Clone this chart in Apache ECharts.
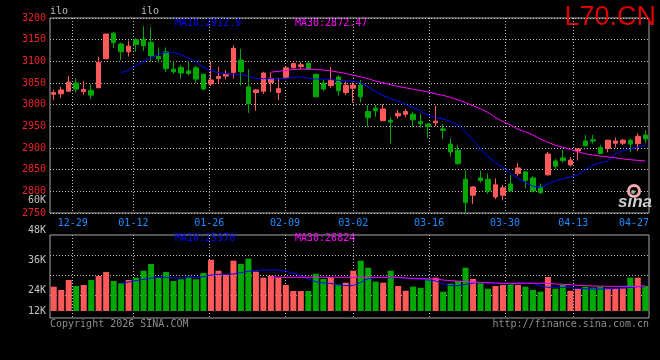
<!DOCTYPE html>
<html>
<head>
<meta charset="utf-8">
<script src="https://cdn.jsdelivr.net/npm/echarts@6/dist/echarts.min.js"></script>
<style>html,body{margin:0;padding:0;background:#000;}#c{width:660px;height:360px;}</style>
</head>
<body>
<div id="c"></div>
<script>
const dates = ['12-24','12-25','12-26','12-29','12-30','12-31','01-05','01-06','01-07','01-08','01-09','01-12','01-13','01-14','01-15','01-16','01-19','01-20','01-21','01-22','01-23','01-26','01-27','01-28','01-29','01-30','02-02','02-03','02-04','02-05','02-06','02-09','02-10','02-11','02-12','02-13','02-24','02-25','02-26','02-27','03-02','03-03','03-04','03-05','03-06','03-09','03-10','03-11','03-12','03-13','03-16','03-17','03-18','03-19','03-20','03-23','03-24','03-25','03-26','03-27','03-30','03-31','04-01','04-02','04-03','04-07','04-08','04-09','04-10','04-13','04-14','04-15','04-16','04-17','04-20','04-21','04-22','04-23','04-24','04-27'];
const xTickLabels = ['12-29','01-12','01-26','02-09','03-02','03-16','03-30','04-13','04-27'];
const open = [3024,3025,3031,3050,3030,3033,3039,3106,3165,3140, 3122,3150,3151,3144,3111,3122,3082,3086,3078,3085, 3070,3048,3060,3066,3074,3103,3041,3028,3031,3051, 3028,3062,3085,3088,3096,3070,3050,3044,3064,3028, 3038,3045,2984,2992,2963,2964,2974,2978,2978,2961, 2955,2958,2944,2909,2895,2828,2791,2831,2828,2787, 2791,2817,2841,2845,2831,2810,2838,2870,2877,2861, 2893,2916,2919,2901,2899,2911,2911,2918,2910,2930];
const close = [3028,3034,3052,3036,3035,3022,3098,3163,3143,3122, 3135,3139,3136,3113,3106,3083,3076,3073,3072,3059, 3036,3057,3065,3071,3130,3076,3002,3034,3073,3061, 3037,3085,3095,3092,3082,3018,3036,3056,3032,3045, 3045,3018,2970,2986,2990,2960,2980,2984,2965,2956, 2950,2962,2941,2891,2864,2774,2810,2825,2801,2815, 2808,2801,2854,2825,2801,2797,2886,2858,2871,2872, 2898,2905,2916,2887,2918,2916,2918,2909,2927,2921];
const low = [3011,3015,3031,3028,3022,3013,3039,3106,3131,3103, 3111,3122,3124,3099,3097,3075,3071,3060,3067,3050, 3034,3043,3048,3058,3060,3044,2981,2986,3025,3029, 3011,3061,3084,3082,3082,3018,3032,3039,3021,3022, 3005,3005,2949,2972,2963,2910,2968,2971,2949,2947, 2924,2951,2921,2880,2861,2750,2771,2820,2794,2782, 2779,2800,2835,2808,2797,2794,2837,2851,2866,2857, 2871,2905,2910,2886,2890,2901,2907,2890,2893,2911];
const high = [3034,3041,3066,3061,3054,3047,3110,3164,3168,3143, 3148,3153,3181,3179,3132,3132,3101,3092,3101,3090, 3072,3100,3087,3080,3137,3129,3082,3036,3076,3074, 3062,3087,3097,3098,3096,3072,3057,3087,3068,3053, 3051,3057,2999,2999,3001,2971,2988,2990,2984,2978, 2957,2997,2955,2922,2907,2848,2812,2848,2841,2830, 2815,2838,2865,2845,2835,2818,2891,2875,2896,2879, 2899,2930,2930,2907,2919,2924,2921,2922,2934,2941];
// MA10 from index 9, MA30 from index 29
const ma10 = [3073,3080,3090,3099,3108,3116,3121,3121,3115,3107, 3099,3086,3078,3074,3071,3070,3070,3065,3061,3060, 3060,3060,3061,3063,3064,3061,3059,3059,3058,3056, 3055,3054,3051,3041,3030,3021,3014,3008,3000,2994, 2985,2976,2970,2967,2961,2953,2937,2918,2898,2880, 2866,2855,2842,2830,2820,2812,2809,2817,2824,2829, 2833,2838,2850,2860,2866,2870,2886,2894,2897,2902, 2907];
const ma30 = [3075,3077,3079,3081,3082,3082,3081,3080,3078,3075, 3072,3068,3064,3060,3054,3050.5,3046,3042,3039,3035.5, 3032.5,3029.5,3025,3021.5,3017,3011,3004.7,2997.5,2990.5,2982, 2970,2961,2953,2943.5,2937.5,2930,2921,2913,2906.5,2901.5, 2897,2891.5,2886.5,2884,2881.5,2879.5,2877.5,2875,2873,2871.5, 2870];
const vol = [25900,22400,33000,26600,27700,33000,37300,41500,32000,29500, 33000,35500,42900,50100,35900,41500,32000,33800,36500,33800, 40500,54600,42900,39100,53600,50100,55700,41900,35500,37600, 35500,27700,21300,21300,21300,39700,34100,35500,28400,30100, 42900,53600,46100,31200,30100,42900,26600,21600,25900,24800, 34100,35500,20600,29100,32300,46100,34100,29500,23700,26600, 27700,28400,27700,25900,22400,20600,36200,23700,27700,21600, 23700,25900,24800,25900,24200,24200,24200,35500,35500,26600];
const volMa10 = [29500,30900,32300,33700,35100,35900,35900,35100,35100,35500, 35900,36500,38300,39100,39100,39400,40800,42300,42900,43700, 43700,43700,42600,40100,37600,34100,31200,29800,29500,27700, 27000,27300,30500,34400,35500,35500,35500,35500,34800,34400, 33700,33000,32000,28800,27000,27000,28400,29800,30500,29800, 29500,29100,28800,30100,29800,29500,26600,25200,25200,25200, 24800,24200,23700,23400,23400,23700,24200,24500,25200,25900, 25970];
const volMa30 = [35900,35900,35900,35900,35900,35900,35900,35900,35900,35900, 35900,35900,35900,35900,35900,35900,35900,35900,35100,34800, 34400,34300,34100,33000,32300,31600,31200,30900,30500,30100, 29800,29500,29500,29500,29500,29500,29500,29500,28800,28400, 28100,27300,27000,26600,26600,26300,26300,26300,26300,26300, 26824];
const priceLegend = ['MA10:2912.9', 'MA30:2872.47'];
const volLegend = ['MA10:25970', 'MA30:26824'];
const volTickLabels = ['60K', '48K', '36K', '24K', '12K'];

const FONT = 'DejaVu Sans Mono';
const RED = '#ff5a5a', GREEN = '#00a800';
const GRID_LINE = {color: '#c0c0c0', type: [1, 2], width: 1};
const pad = (n, arr) => Array(n).fill('-').concat(arr);
const labelIdx = xTickLabels.map(d => dates.indexOf(d));
const gridIdx = labelIdx.filter(i => i !== dates.length - 1);

const chart = echarts.init(document.getElementById('c'), null, {renderer: 'canvas'});
const volTickY = [200.5, 230, 260, 290.5, 311];
const graphics = [
  {type: 'text', style: {text: 'ilo', x: 50, y: 11.5, fill: '#bbbbbb', font: '10px ' + FONT, textAlign: 'left', textVerticalAlign: 'middle'}},
  {type: 'text', style: {text: 'ilo', x: 141, y: 11.5, fill: '#bbbbbb', font: '10px ' + FONT, textAlign: 'left', textVerticalAlign: 'middle'}},
  {type: 'text', style: {text: 'L70.CN', x: 656, y: 17.5, fill: '#dd0000', font: '27px "Liberation Sans"', textAlign: 'right', textVerticalAlign: 'middle'}},
  {type: 'text', style: {text: priceLegend[0], x: 175, y: 23.5, fill: '#0000ff', font: '10px ' + FONT, textAlign: 'left', textVerticalAlign: 'middle'}},
  {type: 'text', style: {text: priceLegend[1], x: 295, y: 23.5, fill: '#ff00ff', font: '10px ' + FONT, textAlign: 'left', textVerticalAlign: 'middle'}},
  {type: 'text', style: {text: volLegend[0], x: 175, y: 238, fill: '#0000ff', font: '10px ' + FONT, textAlign: 'left', textVerticalAlign: 'middle'}},
  {type: 'text', style: {text: volLegend[1], x: 295, y: 238, fill: '#ff00ff', font: '10px ' + FONT, textAlign: 'left', textVerticalAlign: 'middle'}},
  {type: 'text', style: {text: 'Copyright 2026 SINA.COM', x: 50, y: 324, fill: '#8c8c8c', font: '10px ' + FONT, textAlign: 'left', textVerticalAlign: 'middle'}},
  {type: 'text', style: {text: 'http://finance.sina.com.cn', x: 649, y: 324, fill: '#8c8c8c', font: '10px ' + FONT, textAlign: 'right', textVerticalAlign: 'middle'}},
  {type: 'circle', shape: {cx: 634, cy: 191, r: 5.5}, style: {fill: 'none', stroke: '#f2a8a8', lineWidth: 3}},
  {type: 'circle', shape: {cx: 633, cy: 192, r: 2}, style: {fill: '#a0a0a0'}},
  {type: 'text', style: {text: 'sina', x: 635, y: 202, fill: '#cfcfcf', font: 'italic bold 17px "Liberation Sans"', textAlign: 'center', textVerticalAlign: 'middle'}}
];
volTickLabels.forEach((t, i) => {
  graphics.push({type: 'text', style: {text: t, x: 46, y: volTickY[i], fill: '#c4c4c4', font: '10px ' + FONT, textAlign: 'right', textVerticalAlign: 'middle'}});
});

const option = {
  backgroundColor: '#000',
  animation: false,
  grid: [
    {left: 50, right: 11, top: 18, height: 195, show: true, borderColor: '#a8a8a8', borderWidth: 1},
    {left: 50, right: 11, top: 235, height: 83, show: true, borderColor: '#a8a8a8', borderWidth: 1},
    {left: 50, right: 11, top: 235, height: 80, show: false}
  ],
  xAxis: [
    {type: 'category', gridIndex: 0, data: dates, boundaryGap: true, show: false},
    {type: 'category', gridIndex: 0, data: dates, boundaryGap: false, position: 'bottom',
      axisLine: {show: false}, axisTick: {show: false},
      axisLabel: {interval: (i) => labelIdx.includes(i), color: '#1a8cff', fontFamily: FONT, fontSize: 10, margin: 5, alignMaxLabel: 'right'},
      splitLine: {show: true, interval: (i) => gridIdx.includes(i), lineStyle: GRID_LINE}},
    {type: 'category', gridIndex: 1, data: dates, boundaryGap: true, show: false},
    {type: 'category', gridIndex: 1, data: dates, boundaryGap: false,
      axisLine: {show: false}, axisTick: {show: false}, axisLabel: {show: false},
      splitLine: {show: true, interval: (i) => gridIdx.includes(i), lineStyle: GRID_LINE}},
    {type: 'value', gridIndex: 2, min: 0, max: 1, show: false}
  ],
  yAxis: [
    {type: 'value', gridIndex: 0, min: 2750, max: 3200, interval: 50,
      axisLine: {show: false}, axisTick: {show: false},
      axisLabel: {color: '#ee2222', fontFamily: FONT, fontSize: 10, margin: 4, formatter: (v) => String(v)},
      splitLine: {show: true, lineStyle: GRID_LINE}},
    {type: 'value', gridIndex: 1, min: -7455, max: 80940, show: false, splitLine: {show: false}},
    {type: 'value', gridIndex: 2, min: 0, max: 80, interval: 20,
      axisLine: {show: false}, axisTick: {show: false}, axisLabel: {show: false},
      splitLine: {show: true, showMinLine: false, showMaxLine: false, lineStyle: GRID_LINE}}
  ],
  series: [
    {type: 'candlestick', xAxisIndex: 0, yAxisIndex: 0, barWidth: 5,
      data: dates.map((d, i) => [open[i], close[i], low[i], high[i]]),
      itemStyle: {color: RED, color0: GREEN, borderColor: RED, borderColor0: GREEN, borderWidth: 1}},
    {type: 'line', xAxisIndex: 0, yAxisIndex: 0, data: pad(9, ma10), symbol: 'none', silent: true,
      lineStyle: {color: '#0000ff', width: 1}},
    {type: 'line', xAxisIndex: 0, yAxisIndex: 0, data: pad(29, ma30), symbol: 'none', silent: true,
      lineStyle: {color: '#ff00ff', width: 1}},
    {type: 'bar', xAxisIndex: 2, yAxisIndex: 1, barWidth: 6,
      data: vol.map((v, i) => ({value: v, itemStyle: {color: close[i] >= open[i] ? RED : GREEN}}))},
    {type: 'line', xAxisIndex: 2, yAxisIndex: 1, data: pad(9, volMa10), symbol: 'none', silent: true,
      lineStyle: {color: '#0000ff', width: 1}},
    {type: 'line', xAxisIndex: 2, yAxisIndex: 1, data: pad(29, volMa30), symbol: 'none', silent: true,
      lineStyle: {color: '#ff00ff', width: 1}}
  ],
  graphic: graphics
};
chart.setOption(option);
</script>
</body>
</html>
